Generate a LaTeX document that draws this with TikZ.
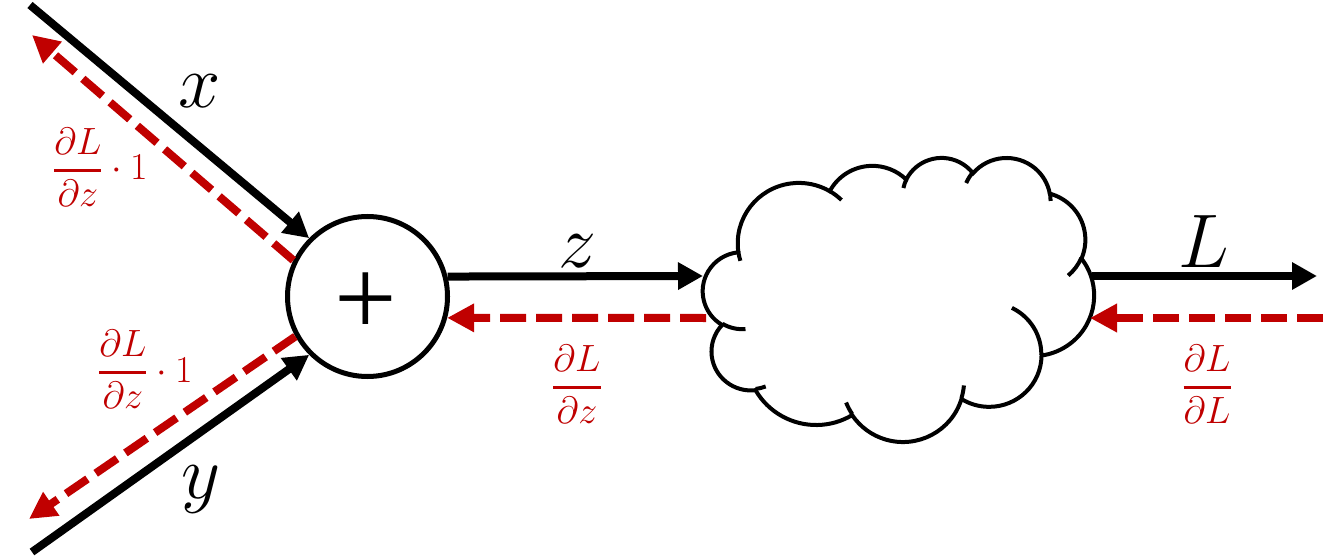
\RequirePackage{fix-cm}
\documentclass[tikz,border=0pt]{standalone}
\usepackage{amsmath}
\usepackage{fontspec}
\newfontfamily\plusfont{Liberation Serif}
\usetikzlibrary{arrows.meta}
\definecolor{gred}{HTML}{C00000}
% PowerPoint-style elliptical arc: radii, start angle and sweep given as visual angles
\newcommand\ooarc[4]{arc[x radius={#1*0.1pt}, y radius={#2*0.1pt}, start angle={atan2(#1*sin(#3),#2*cos(#3))}, delta angle={atan2(#1*sin(#3+#4),#2*cos(#3+#4))-atan2(#1*sin(#3),#2*cos(#3))-360*round((atan2(#1*sin(#3+#4),#2*cos(#3+#4))-atan2(#1*sin(#3),#2*cos(#3))-(#4))/360)}]}
\begin{document}
\begin{tikzpicture}[x=1pt,y=1pt,yscale=-1,
  fwd/.style={draw=black, line width=8pt, -{Triangle[length=25pt,width=26pt]}},
  bwd/.style={draw=gred, line width=8pt, dash pattern=on 26pt off 10pt, -{Triangle[length=27pt,width=27pt]}},
  blk/.style={font=\fontsize{76}{80}\selectfont, inner sep=0pt, anchor=base},
  glab/.style={font=\fontsize{38}{46}\selectfont, text=gred, inner sep=0pt},
  cloudline/.style={draw=black, line width=4pt}]
\fill[white] (0,0) rectangle (1343,556);
\useasboundingbox (0,0) rectangle (1343,556);

% cloud
\begin{scope}[shift={(703,157)}, x=0.1pt, y=0.1pt, xscale=391/4320, yscale=284/4320]
\draw[cloudline] (3900,14370) \ooarc{6753}{9190}{-190.4875}{123.7805} \ooarc{5333}{7267}{-144.1024}{89.9452} \ooarc{4365}{5945}{-145.8079}{99.7230} \ooarc{4857}{6595}{-130.9861}{117.2417} \ooarc{5333}{7273}{-78.7089}{109.0269} \ooarc{6775}{9220}{-46.2673}{130.2690} \ooarc{5785}{7867}{0.6250}{114.0333} \ooarc{6752}{9215}{22.4516}{115.1726} \ooarc{7720}{10543}{66.2426}{75.7110} \ooarc{4360}{5918}{-274.9421}{146.7356} \ooarc{4345}{5945}{-246.8285}{152.5189} -- cycle;
\draw[cloudline] (4693,26177) \ooarc{4345}{5945}{86.7420}{26.4295}
  (6928,34899) \ooarc{4360}{5918}{73.6105}{11.4475}
  (16478,39090) \ooarc{6752}{9215}{137.6242}{14.0811}
  (28827,34751) \ooarc{6752}{9215}{6.4533}{15.9984}
  (34129,22954) \ooarc{5785}{7867}{-70.2924}{70.9174}
  (41798,15354) \ooarc{5333}{7273}{30.3180}{27.7515}
  (38324,5426) \ooarc{4857}{6595}{-13.7443}{14.8589}
  (29078,3952) \ooarc{4857}{6595}{-149.1815}{18.1954}
  (22141,4720) \ooarc{4365}{5945}{-163.4943}{17.6864}
  (14000,5192) \ooarc{6753}{9190}{-66.7070}{12.3194}
  (4127,15789) \ooarc{6753}{9190}{157.6544}{11.8582};
\end{scope}

% sum node
\node[circle, draw, line width=5pt, minimum size=160pt, inner sep=0pt] (sum) at (367.5,296.5) {};
\node[inner sep=0pt, font=\plusfont\fontsize{111}{111}\selectfont] (plus) at (366,304) {+};

% free ends
\coordinate (xs) at (30,5);
\coordinate (xr) at (32,35);
\coordinate (ys) at (32,552);
\coordinate (yr) at (29,519);
\coordinate (cl1) at (703,276);
\coordinate (cl2) at (706,318);
\coordinate (cr1) at (1092,276);
\coordinate (cr2) at (1090,318);
\coordinate (le) at (1317,276);
\coordinate (ls) at (1323,318);

% connectors
\draw[fwd] (xs) -- (sum.135);
\draw[bwd] (sum.154.7) -- (xr);
\draw[fwd] (ys) -- (sum.225);
\draw[bwd] (sum.209) -- (yr);
\draw[fwd] (sum.14.8) -- (cl1);
\draw[bwd] (cl2) -- (sum.-15.6);
\draw[fwd] (cr1) -- (le);
\draw[bwd] (ls) -- (cr2);

% labels
\node[blk] (lx) at (200,108) {$x$};
\node[blk] (ly) at (201,498) {$y$};
\node[blk] (lz) at (577,267) {$z$};
\node[blk] (lL) at (1204,267) {$L$};

\node[glab, anchor=base west] (gx) at (53,180) {$\genfrac{}{}{2.5pt}{0}{\partial L}{\partial z}\cdot 1$};
\node[glab, anchor=base west] (gy) at (98,382) {$\genfrac{}{}{2.5pt}{0}{\partial L}{\partial z}\cdot 1$};
\node[glab, anchor=base] (gz) at (577,397) {$\genfrac{}{}{2.5pt}{0}{\partial L}{\partial z}$};
\node[glab, anchor=base] (gL) at (1207,397) {$\genfrac{}{}{2.5pt}{0}{\partial L}{\partial L}$};
\end{tikzpicture}
\end{document}
